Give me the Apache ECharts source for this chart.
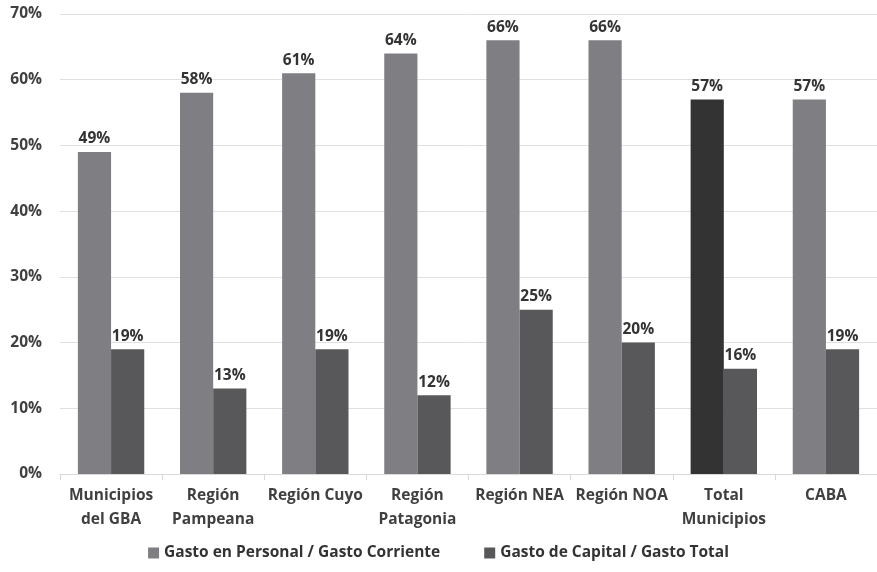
<!DOCTYPE html>
<html><head><meta charset="utf-8">
<script src="https://cdn.jsdelivr.net/npm/echarts@6/dist/echarts.min.js"></script>
<style>html,body{margin:0;padding:0;background:#fff}#c{width:877px;height:572px}</style>
</head><body><div id="c"></div>
<script>
const categories = ['Municipios\ndel GBA','Región\nPampeana','Región Cuyo','Región\nPatagonia','Región NEA','Región NOA','Total\nMunicipios','CABA'];
const personal = [49,58,61,64,66,66,57,57];
const capital = [19,13,19,12,25,20,16,19];
const seriesNames = ['Gasto en Personal / Gasto Corriente','Gasto de Capital / Gasto Total'];
const highlightIndex = 6;

const FONT = '"Open Sans", sans-serif';
const chart = echarts.init(document.getElementById('c'));
const lbl = {show:true,position:'top',formatter:'{c}%',fontFamily:FONT,fontWeight:'bold',fontSize:15.5,color:'#333',distance:5};
chart.setOption({
  animation:false,
  grid:{left:60,right:0,top:14,bottom:98,containLabel:false},
  legend:{bottom:6,left:'center',itemWidth:11,itemHeight:11,itemGap:44,icon:'rect',
    textStyle:{fontFamily:FONT,fontWeight:'bold',fontSize:15.5,color:'#333'},
    data:seriesNames},
  xAxis:{type:'category',data:categories,
    axisLine:{lineStyle:{color:'#d9d9d9'}},
    axisTick:{show:true,lineStyle:{color:'#d9d9d9'},length:6},
    axisLabel:{interval:0,fontFamily:FONT,fontWeight:'bold',fontSize:15.5,color:'#404040',lineHeight:24,margin:10}},
  yAxis:{type:'value',min:0,max:70,interval:10,
    axisLabel:{formatter:'{value}%',fontFamily:FONT,fontWeight:'bold',fontSize:15.5,color:'#404040',margin:18},
    splitLine:{lineStyle:{color:'#e0e0e0'}},axisLine:{show:false},axisTick:{show:false}},
  series:[
    {name:seriesNames[0],type:'bar',barGap:'0%',barCategoryGap:'35%',
     itemStyle:{color:'#7f7f83'},
     data:personal.map((v,i)=> i===highlightIndex ? {value:v,itemStyle:{color:'#333333'}} : v),
     label:lbl},
    {name:seriesNames[1],type:'bar',itemStyle:{color:'#58585b'},data:capital,label:lbl}
  ]
});
</script></body></html>
